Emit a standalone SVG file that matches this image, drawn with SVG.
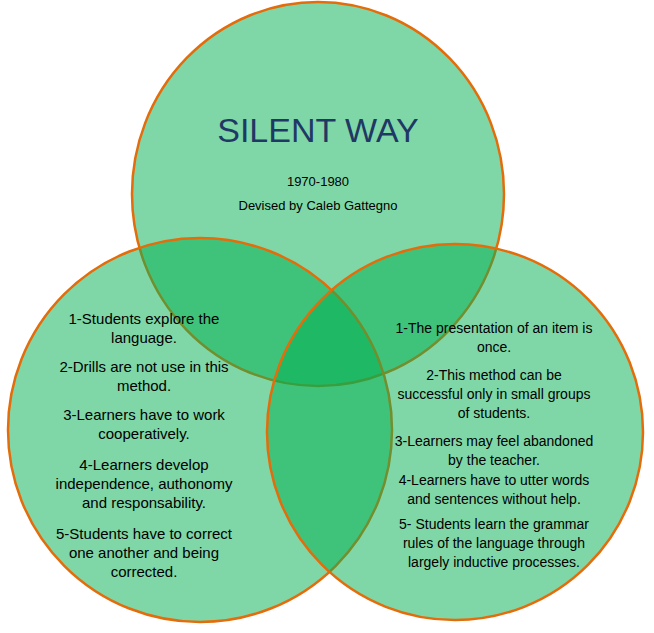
<svg xmlns="http://www.w3.org/2000/svg" width="654" height="633" viewBox="0 0 654 633">
<style>
.c{fill:#00b050;fill-opacity:0.5;stroke:#e46c0a;stroke-width:2.5}
text{font-family:"Liberation Sans",Arial,sans-serif;fill:#000;text-anchor:middle}
.b{font-size:15px}
.s{font-size:13px}
.t{font-size:34px;fill:#1f3864}
</style>
<rect width="654" height="633" fill="#fff"/>
<g id="top"><ellipse class="c" cx="318" cy="194" rx="186" ry="192"/></g>
<g id="left"><circle class="c" cx="200" cy="430" r="192"/></g>
<g id="right"><circle class="c" cx="455" cy="432" r="188"/></g>
<g id="connectors"/>
<g id="top-text">
<text class="t" x="318" y="142">SILENT WAY</text>
<text class="s" x="318" y="186">1970-1980</text>
<text class="s" x="318" y="210">Devised by Caleb Gattegno</text>
</g>
<g id="left-text" class="b">
<text x="144" y="324">1-Students explore the</text>
<text x="144" y="343">language.</text>
<text x="144" y="372">2-Drills are not use in this</text>
<text x="144" y="391">method.</text>
<text x="144" y="420">3-Learners have to work</text>
<text x="144" y="439">cooperatively.</text>
<text x="144" y="470">4-Learners develop</text>
<text x="144" y="489">independence, authonomy</text>
<text x="144" y="508">and responsability.</text>
<text x="144" y="539">5-Students have to correct</text>
<text x="144" y="558">one another and being</text>
<text x="144" y="577">corrected.</text>
</g>
<g id="right-text" class="b" style="font-size:14px">
<text x="494" y="333">1-The presentation of an item is</text>
<text x="494" y="352">once.</text>
<text x="494" y="380">2-This method can be</text>
<text x="494" y="399">successful only in small groups</text>
<text x="494" y="418">of students.</text>
<text x="494" y="446">3-Learners may feel abandoned</text>
<text x="494" y="465">by the teacher.</text>
<text x="494" y="485">4-Learners have to utter words</text>
<text x="494" y="504">and sentences without help.</text>
<text x="494" y="529">5- Students learn the grammar</text>
<text x="494" y="548">rules of the language through</text>
<text x="494" y="567">largely inductive processes.</text>
</g>
</svg>
